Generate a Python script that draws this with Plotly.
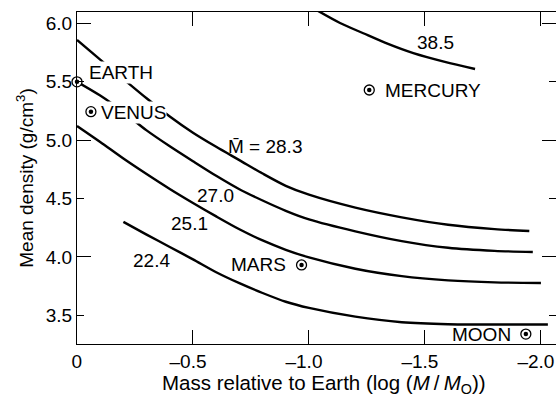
import plotly.graph_objects as go

FONT = "Liberation Sans, Arial, Helvetica, sans-serif"

# ---- data ----
grid_x = [0, -0.1, -0.2, -0.3, -0.4, -0.5, -0.6, -0.7, -0.8, -0.9, -1.0, -1.2, -1.4, -1.6, -1.8]

m283_x = grid_x + [-1.95]
m283_y = [5.859, 5.690, 5.524, 5.359, 5.203, 5.064, 4.943, 4.829, 4.714, 4.609,
          4.533, 4.422, 4.339, 4.275, 4.238, 4.222]

m270_x = grid_x + [-1.965]
m270_y = [5.50, 5.382, 5.241, 5.084, 4.948, 4.820, 4.695, 4.580, 4.483, 4.395,
          4.321, 4.219, 4.135, 4.078, 4.052, 4.042]

m251_x = grid_x + [-2.0]
m251_y = [5.122, 4.985, 4.843, 4.710, 4.582, 4.462, 4.347, 4.237, 4.141, 4.061,
          3.996, 3.899, 3.835, 3.799, 3.782, 3.777]

m224_x = [-0.2, -0.3, -0.4, -0.5, -0.6, -0.7, -0.8, -0.9, -1.0, -1.2, -1.4, -1.6, -1.8, -2.03]
m224_y = [4.300, 4.191, 4.085, 3.979, 3.869, 3.775, 3.691, 3.616, 3.563, 3.488,
          3.440, 3.423, 3.421, 3.421]

m385_x = [-1.035, -1.134, -1.234, -1.341, -1.450, -1.586, -1.716]
m385_y = [6.112, 6.004, 5.916, 5.824, 5.745, 5.670, 5.610]

planet_names = ["EARTH", "VENUS", "MERCURY", "MARS", "MOON"]
planet_x = [0.0, -0.06, -1.26, -0.968, -1.935]
planet_y = [5.50, 5.244, 5.43, 3.931, 3.339]

x_tickvals = [0, -0.5, -1.0, -1.5, -2.0]
x_ticktext = ["\u20020", "\u20130.5", "\u20131.0", "\u20131.5", "\u20132.0"]
y_tickvals = [3.5, 4.0, 4.5, 5.0, 5.5, 6.0]
y_ticktext = ["3.5", "4.0", "4.5", "5.0", "5.5", "6.0"]
y_major = [4.0, 5.0, 6.0]

x_title = "Mass relative to Earth (log (<i>M</i>\u2009/\u2009<i>M</i><sub>O</sub>))"
y_title = "Mean density (g/cm<sup>3</sup>)"

x_range = [0, -2.065]
y_range = [3.254, 6.098]

fig = go.Figure()

for xs, ys in [(m283_x, m283_y), (m270_x, m270_y), (m251_x, m251_y),
               (m224_x, m224_y), (m385_x, m385_y)]:
    fig.add_trace(go.Scatter(x=xs, y=ys, mode="lines",
                             line=dict(color="black", width=2.4, shape="spline", smoothing=0.8),
                             showlegend=False, hoverinfo="skip"))

# planet symbols: ring + centre dot
fig.add_trace(go.Scatter(x=planet_x, y=planet_y, mode="markers", cliponaxis=False,
                         marker=dict(symbol="circle", size=10, color="white",
                                     line=dict(color="black", width=1.3)),
                         showlegend=False, hoverinfo="skip"))
fig.add_trace(go.Scatter(x=planet_x, y=planet_y, mode="markers", cliponaxis=False,
                         marker=dict(symbol="circle", size=4.5, color="black", line=dict(width=0)),
                         showlegend=False, hoverinfo="skip"))
# dummy trace for the long-tick overlay axis
fig.add_trace(go.Scatter(x=[None], y=[None], yaxis="y2", showlegend=False, hoverinfo="skip"))

AF = dict(family=FONT, size=19, color="black")
ann = []
# planet labels
ann.append(dict(x=-0.047, y=5.584, text=planet_names[0], xanchor="left", yanchor="middle",
                bgcolor="white", borderpad=0))
ann.append(dict(x=-0.099, y=5.233, text=planet_names[1], xanchor="left", yanchor="middle",
                bgcolor="white", borderpad=0))
ann.append(dict(x=-1.319, y=5.426, text=planet_names[2], xanchor="left", yanchor="middle"))
ann.append(dict(x=-0.909, y=3.935, text=planet_names[3], xanchor="right", yanchor="middle"))
ann.append(dict(x=-1.879, y=3.339, text=planet_names[4], xanchor="right", yanchor="middle"))
# curve labels
ann.append(dict(x=-1.547, y=5.833, text="38.5", xanchor="center", yanchor="middle"))
ann.append(dict(x=-0.81, y=4.942, text="M\u0304 = 28.3", xanchor="center", yanchor="middle"))
ann.append(dict(x=-0.599, y=4.526, text="27.0", xanchor="center", yanchor="middle"))
ann.append(dict(x=-0.485, y=4.286, text="25.1", xanchor="center", yanchor="middle"))
ann.append(dict(x=-0.321, y=3.969, text="22.4", xanchor="center", yanchor="middle"))
for a in ann:
    a.update(xref="x", yref="y", showarrow=False, font=AF)

# x-axis title (placed as a paper annotation so it can sit slightly right of centre)
ann.append(dict(x=0.516, y=0, xref="paper", yref="paper", text=x_title, showarrow=False,
                xanchor="center", yanchor="middle", yshift=-40,
                font=dict(family=FONT, size=20.5, color="black")))

fig.update_layout(
    width=556, height=398,
    margin=dict(l=77, r=0, t=12, b=54, autoexpand=False),
    paper_bgcolor="white", plot_bgcolor="white",
    font=dict(family=FONT, size=19, color="black"),
    annotations=ann,
    xaxis=dict(range=x_range, tickvals=x_tickvals, ticktext=x_ticktext,
               automargin=False, ticklabelshift=5,
               ticks="inside", ticklen=14, tickwidth=1.3, tickcolor="black",
               ticklabeloverflow="allow",
               showline=True, linecolor="black", linewidth=1.3, mirror="ticks",
               showgrid=False, zeroline=False,
               tickfont=dict(family=FONT, size=19, color="black")),
    yaxis=dict(range=y_range, tickvals=y_tickvals, ticktext=y_ticktext,
               automargin=False,
               ticks="inside", ticklen=7, tickwidth=1.3, tickcolor="black",
               ticklabeloverflow="allow",
               showline=True, linecolor="black", linewidth=1.3, mirror="ticks",
               showgrid=False, zeroline=False,
               tickfont=dict(family=FONT, size=19, color="black"),
               title=dict(text=y_title,
                          font=dict(family=FONT, size=19, color="black"), standoff=6)),
    yaxis2=dict(range=y_range, overlaying="y", side="left", anchor="x",
                automargin=False,
                tickvals=y_major, showticklabels=False,
                ticks="inside", ticklen=14, tickwidth=1.3, tickcolor="black",
                showline=False, mirror="ticks", showgrid=False, zeroline=False),
)

fig.write_html("out.html")
